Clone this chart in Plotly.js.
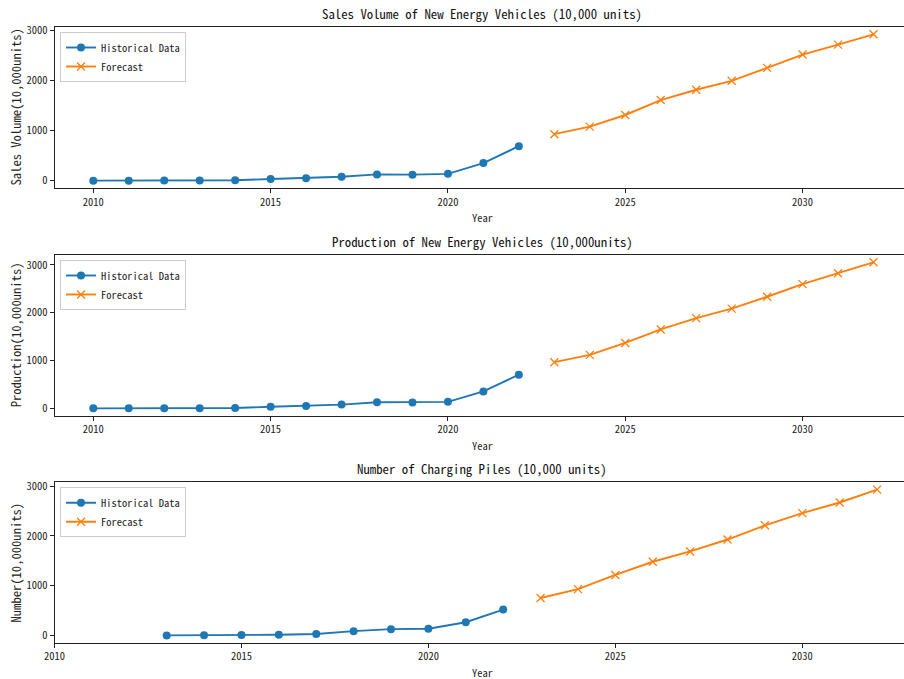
<!DOCTYPE html>
<html>
<head>
<meta charset="utf-8">
<script src="https://cdn.plot.ly/plotly-3.0.1.min.js"></script>
<style>
html, body { margin: 0; padding: 0; background: #fff; }
#chart { width: 904px; height: 679px; }
</style>
</head>
<body>
<div id="chart"></div>
<script>
// ---- Data ----
const histYears = [2010, 2011, 2012, 2013, 2014, 2015, 2016, 2017, 2018, 2019, 2020, 2021, 2022];
const forecastYears = [2023, 2024, 2025, 2026, 2027, 2028, 2029, 2030, 2031, 2032];
const pileHistYears = [2013, 2014, 2015, 2016, 2017, 2018, 2019, 2020, 2021, 2022];

const salesHist = [0.7, 0.8, 1.3, 1.8, 7.5, 33.1, 50.7, 77.7, 125.6, 120.6, 136.7, 352.1, 688.7];
const salesForecast = [928, 1079, 1311, 1609, 1814, 1993, 2251, 2517, 2716, 2921];

const prodHist = [0.7, 0.8, 1.3, 1.8, 7.9, 34.1, 51.7, 79.4, 127.0, 124.2, 136.6, 354.5, 705.8];
const prodForecast = [967, 1120, 1369, 1652, 1888, 2087, 2336, 2600, 2828, 3056];

const pileHist = [1, 4, 8, 14, 30, 86, 126, 133, 265, 520];
const pileForecast = [751, 930, 1215, 1480, 1687, 1926, 2211, 2456, 2669, 2928];

const titles = [
  "Sales Volume of New Energy Vehicles (10,000 units)",
  "Production of New Energy Vehicles (10,000units)",
  "Number of Charging Piles (10,000 units)"
];
const yLabels = ["Sales Volume(10,000units)", "Production(10,000units)", "Number(10,000units)"];
const xLabel = "Year";
const seriesNames = ["Historical Data", "Forecast"];

// ---- Style ----
const W = 904, H = 679;
const FONT = '"Noto Sans Mono CJK SC", "Noto Sans CJK SC", "DejaVu Sans Mono", monospace';
const BLUE = '#1f77b4', ORANGE = '#ff7f0e';
const px = v => v / W;
const py = v => 1 - v / H;

const panels = [
  {top: 27, bottom: 188, xr: [2008.906, 2032.86], yr: [-146, 3067], hx: histYears, hy: salesHist, fy: salesForecast},
  {top: 255, bottom: 415.7, xr: [2008.906, 2032.86], yr: [-153, 3209], hx: histYears, hy: prodHist, fy: prodForecast},
  {top: 482.3, bottom: 642.7, xr: [2010, 2032.72], yr: [-146, 3075], hx: pileHistYears, hy: pileHist, fy: pileForecast}
];

const data = [];
const layout = {
  width: W, height: H,
  margin: {l: 0, r: 0, t: 0, b: 0},
  paper_bgcolor: '#fff', plot_bgcolor: '#fff',
  showlegend: true,
  font: {family: FONT, size: 10, color: '#222'},
  annotations: []
};

panels.forEach((p, i) => {
  const n = i === 0 ? '' : String(i + 1);
  const legendName = 'legend' + n;
  data.push({
    x: p.hx, y: p.hy, name: seriesNames[0], type: 'scatter', mode: 'lines+markers',
    xaxis: 'x' + n, yaxis: 'y' + n, legend: legendName,
    line: {color: BLUE, width: 1.9},
    marker: {color: BLUE, size: 8, symbol: 'circle'}
  });
  data.push({
    x: forecastYears, y: p.fy, name: seriesNames[1], type: 'scatter', mode: 'lines+markers',
    xaxis: 'x' + n, yaxis: 'y' + n, legend: legendName,
    line: {color: ORANGE, width: 1.9},
    marker: {color: ORANGE, size: 8, symbol: 'x-thin-open', line: {color: ORANGE, width: 1.3}}
  });
  layout['xaxis' + n] = {
    domain: [px(54.5), 1], range: p.xr, anchor: 'y' + n,
    tickvals: [2010, 2015, 2020, 2025, 2030], ticktext: ['2010', '2015', '2020', '2025', '2030'],
    ticks: 'outside', ticklen: 4, tickwidth: 1, tickcolor: '#222',
    showline: true, linecolor: '#222', linewidth: 1, mirror: true,
    showgrid: false, zeroline: false,
    tickfont: {family: FONT, size: 10.5, color: '#222'}
  };
  layout['yaxis' + n] = {
    domain: [py(p.bottom), py(p.top)], range: p.yr, anchor: 'x' + n,
    tickvals: [0, 1000, 2000, 3000], ticktext: ['0', '1000', '2000', '3000'],
    ticks: 'outside', ticklen: 4, tickwidth: 1, tickcolor: '#222',
    showline: true, linecolor: '#222', linewidth: 1, mirror: false,
    showgrid: false, zeroline: false,
    tickfont: {family: FONT, size: 10.5, color: '#222'}
  };
  layout[legendName] = {
    x: px(60), y: py(p.top + 5), xanchor: 'left', yanchor: 'top',
    bgcolor: 'rgba(255,255,255,0.8)', bordercolor: '#cccccc', borderwidth: 1,
    font: {family: FONT, size: 10.5, color: '#222'},
    itemwidth: 30, tracegroupgap: 0
  };
  // Title
  layout.annotations.push({
    text: titles[i], xref: 'paper', yref: 'paper', x: px(482), y: py(p.top - 14),
    xanchor: 'center', yanchor: 'middle', showarrow: false,
    font: {family: FONT, size: 12.8, color: '#111'}
  });
  // Y label
  layout.annotations.push({
    text: yLabels[i], xref: 'paper', yref: 'paper', x: px(15), y: py((p.top + p.bottom) / 2),
    xanchor: 'center', yanchor: 'middle', showarrow: false, textangle: -90,
    font: {family: FONT, size: 12.6, color: '#222'}
  });
  // X label
  layout.annotations.push({
    text: xLabel, xref: 'paper', yref: 'paper', x: px(482), y: py(p.bottom + 30),
    xanchor: 'center', yanchor: 'middle', showarrow: false,
    font: {family: FONT, size: 10.5, color: '#222'}
  });
});

Plotly.newPlot('chart', data, layout, {displayModeBar: false, staticPlot: true});
</script>
</body>
</html>
